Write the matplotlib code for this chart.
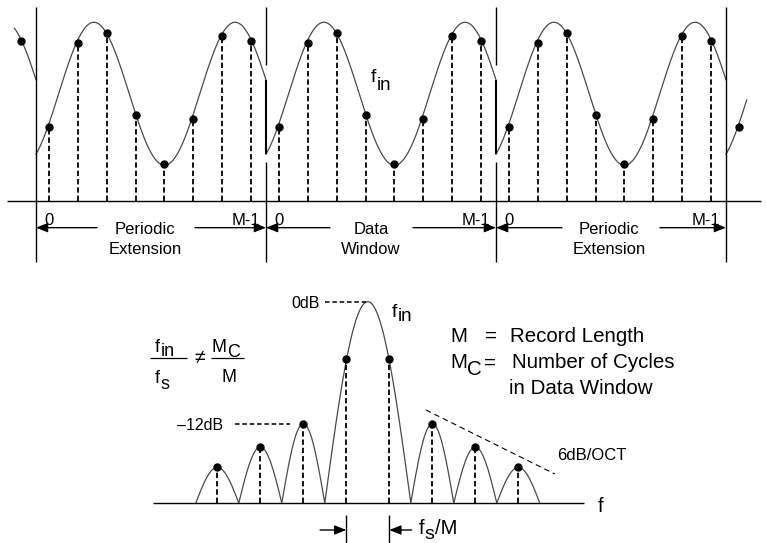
import numpy as np
import matplotlib.pyplot as plt

plt.rcParams['font.family'] = ['Liberation Sans', 'DejaVu Sans']

# time domain: one data window of M samples, shown with its periodic extension
samples = [1.03, 2.21, 2.35, 1.20, 0.52, 1.15, 2.31, 2.24]
window_names = [('Periodic', 'Extension'), ('Data', 'Window'), ('Periodic', 'Extension')]
fin_mean = 1.5      # input sine, plot units
fin_amp = 1.0
fin_period = 4.91   # samples per cycle
fin_trough = 4.0    # sample index of the trough
edge_offset = 0.47  # window edge sits this far before sample 0

# spectrum (dB vs FFT bin)
bins = [0, 1, 2, 3, 4, 5, 6, 7]
bin_db = [-16.3, -14.3, -12.0, -5.6, -5.6, -12.0, -14.3, -16.3]
fin_bin = 3.5
lobe_center = [0, 1, 2, 3.5, 5, 6, 7]
lobe_width = [1, 1, 1, 2, 1, 1, 1]
lobe_db = [-16.3, -14.3, -12.0, 0.0, -12.0, -14.3, -16.3]
floor_db = -19.8
rolloff_bin = [4.85, 7.85]
rolloff_db = [-10.65, -16.95]

GRAY = '#4a4a4a'
STEM = dict(colors='k', lw=1.3, linestyles=[(0, (3, 1.6))])
ARROW = dict(arrowstyle='-|>,head_length=0.5,head_width=0.2', mutation_scale=14,
             lw=1, color='k', shrinkA=0, shrinkB=0)


def fin_wave(n):
    return fin_mean - fin_amp * np.cos(2 * np.pi * (np.asarray(n) - fin_trough) / fin_period)


def sub_text(ax, x, y, main, sub, size, sub_size=None, drop=4, after=None):
    t = ax.text(x, y, main, fontsize=size, ha='left', va='baseline')
    s = ax.annotate(sub, xy=(1, 0), xycoords=t, xytext=(0.3, -drop),
                    textcoords='offset points', fontsize=sub_size or size,
                    ha='left', va='bottom')
    if after:
        ax.annotate(after, xy=(1, 0), xycoords=s, xytext=(0.3, drop),
                    textcoords='offset points', fontsize=size, ha='left', va='bottom')
    return t


fig = plt.figure(figsize=(7.66, 5.43), dpi=100)

top = fig.add_axes([0, 273 / 543, 1, 270 / 543])
top.set_xlim(-49.5 / 28.75, (766 - 49.5) / 28.75)
top.set_ylim(-(270 - 201) / 71.5, 201 / 71.5)
top.axis('off')

bot = fig.add_axes([0, 0, 1, 273 / 543])
bot.set_xlim(-217.3 / 43, (766 - 217.3) / 43)
bot.set_ylim(floor_db - 40 / 10.17, floor_db + 233 / 10.17)
bot.axis('off')

ov = fig.add_axes([0, 0, 1, 1])
ov.set_xlim(0, 766)
ov.set_ylim(543, 0)
ov.axis('off')

# ---- top: sampled sine with periodic extension ----
M = len(samples)
idx = np.arange(M)
for w in range(3):
    t = np.linspace(-edge_offset, M - edge_offset, 200)
    top.plot(t + M * w, fin_wave(t), color=GRAY, lw=0.9)
    top.vlines(idx + M * w, 0, samples, **STEM)
    top.plot(idx + M * w, samples, 'o', color='k', ms=5)
    top.text(M * w, -0.34, '0', ha='center', va='baseline', fontsize=12)
    top.text(M * w + M - 1 - 0.18, -0.34, 'M-1', ha='center', va='baseline', fontsize=12)

t = np.linspace(M - edge_offset - 0.75, M - edge_offset, 40)
top.plot(t - M, fin_wave(t), color=GRAY, lw=0.9)
top.plot(-1, samples[-1], 'o', color='k', ms=5)
t = np.linspace(-edge_offset, 0.25, 40)
top.plot(t + 3 * M, fin_wave(t), color=GRAY, lw=0.9)
top.plot(3 * M, samples[0], 'o', color='k', ms=5)

top.hlines(0, -1.48, 24.76, color='k', lw=1)

edges = [M * w - edge_offset for w in range(4)]
v_top, v_bot = 2.713, -0.853
top.vlines([edges[0], edges[3]], v_bot, v_top, color='k', lw=1)
y_hi = fin_wave(M - edge_offset)
y_lo = fin_wave(-edge_offset)
for e in edges[1:3]:
    top.vlines(e, y_hi + 0.21, v_top, color='k', lw=1)
    top.vlines(e, y_lo, y_hi, color='k', lw=1.5)
    top.vlines(e, v_bot, y_lo - 0.11, color='k', lw=1)

# window arrows and names
v_arr = -0.373
label_x = [145, 371, 609]
tails = [(97, 195), (330, 413), (562, 660)]
for w in range(3):
    for tail, e in zip(tails[w], (edges[w], edges[w + 1])):
        top.annotate('', xy=(e, v_arr), xytext=((tail - 49.5) / 28.75, v_arr), arrowprops=ARROW)
    ov.text(label_x[w], 233.5, window_names[w][0], ha='center', va='baseline', fontsize=12)
    ov.text(label_x[w], 253.5, window_names[w][1], ha='center', va='baseline', fontsize=12)

sub_text(ov, 371, 82, 'f', 'in', 14, 13.5, drop=5.5)

# ---- bottom: leakage spectrum ----
xs, ys = [], []
for c, wd, pk in zip(lobe_center, lobe_width, lobe_db):
    t = np.linspace(0, 1, 60)
    xs.append(c - wd / 2 + wd * t)
    ys.append(floor_db + (pk - floor_db) * np.sin(np.pi * t))
bot.plot(np.concatenate(xs), np.concatenate(ys), color=GRAY, lw=0.9)
bot.vlines(bins, floor_db, bin_db, **STEM)
bot.plot(bins, bin_db, 'o', color='k', ms=5)
bot.hlines(floor_db, -1.495, 8.53, color='k', lw=1)

bot.hlines(0, 2.5, fin_bin - 0.04, colors='k', lw=1.1, linestyles=[(0, (3, 1.8))])
bot.hlines(bin_db[2], 0.41, 1.69, colors='k', lw=1.1, linestyles=[(0, (3, 1.8))])
bot.plot(rolloff_bin, rolloff_db, color='k', lw=0.8, ls=(0, (5, 3.5)))

bot.vlines([3, 4], floor_db - 12 / 10.17, floor_db - 4.2, color='k', lw=1)
v_arr2 = floor_db - 27 / 10.17
bot.annotate('', xy=(3, v_arr2), xytext=(2.39, v_arr2), arrowprops=ARROW)
bot.annotate('', xy=(4, v_arr2), xytext=(4.52, v_arr2), arrowprops=ARROW)

ov.text(320, 308, '0dB', ha='right', va='baseline', fontsize=11.5)
ov.text(223.3, 430.5, '\u201312dB', ha='right', va='baseline', fontsize=11.5)
ov.text(556.7, 460, '6dB/OCT', ha='left', va='baseline', fontsize=12)
sub_text(ov, 391.7, 316.7, 'f', 'in', 14, 13.5, drop=3)
ov.text(597.5, 511.7, 'f', ha='left', va='baseline', fontsize=14.5)
sub_text(ov, 418.3, 533.5, 'f', 's', 14.5, 14, drop=4.2, after='/M')

# fraction f_in / f_s != M_C / M
sub_text(ov, 155, 352, 'f', 'in', 13, 13, drop=3)
ov.hlines(358.3, 150, 186.7, color='k', lw=0.9)
sub_text(ov, 155, 383, 'f', 's', 13, 13, drop=4.5)
ov.text(200, 357.7, '\u2260', ha='center', va='center', fontsize=14)
sub_text(ov, 211.7, 351.7, 'M', 'C', 13, 13, drop=3.5)
ov.hlines(358.3, 210.7, 244.3, color='k', lw=0.9)
ov.text(221.7, 382.3, 'M', ha='left', va='baseline', fontsize=13)

# definitions
ov.text(450, 341.7, 'M', ha='left', va='baseline', fontsize=14.8)
ov.text(491, 341.7, '=', ha='center', va='baseline', fontsize=14.8)
ov.text(510, 341.7, 'Record Length', ha='left', va='baseline', fontsize=14.8)
sub_text(ov, 450, 368.3, 'M', 'C', 14.8, 14.8, drop=5)
ov.text(490, 368.3, '=', ha='center', va='baseline', fontsize=14.8)
ov.text(511.7, 368.3, 'Number of Cycles', ha='left', va='baseline', fontsize=14.8)
ov.text(509.3, 394, 'in Data Window', ha='left', va='baseline', fontsize=14.8)

fig.savefig('out.png', dpi=100)
